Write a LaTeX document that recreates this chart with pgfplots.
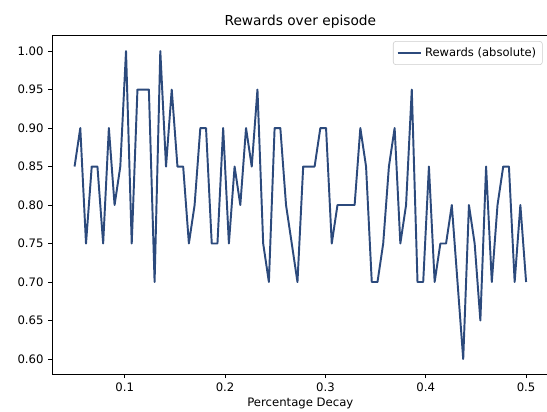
\documentclass[border=0pt]{standalone}
\usepackage{pgfplots}
\pgfplotsset{compat=1.18}
\usepackage{fontspec}
\setmainfont{DejaVu Sans}
\definecolor{linec}{RGB}{44,74,124}
\begin{document}
\begin{tikzpicture}
\begin{axis}[
  scale only axis,
  width=357.6pt, height=243.9pt,
  xmin=0.0275, xmax=0.5225,
  ymin=0.58, ymax=1.02,
  xtick={0.1,0.2,0.3,0.4,0.5},
  ytick={0.6,0.65,0.7,0.75,0.8,0.85,0.9,0.95,1.0},
  xticklabel style={/pgf/number format/.cd,fixed,precision=1},
  yticklabel style={/pgf/number format/.cd,fixed,fixed zerofill,precision=2},
  /pgf/number format/assume math mode=true,
  tick align=outside,
  tick pos=left,
  major tick length=2.6pt,
  every tick/.style={black,line width=0.6pt},
  axis line style={line width=0.6pt},
  ticklabel style={font=\fontsize{8.4}{10}\selectfont},
  xlabel={Percentage Decay},
  xlabel style={font=\fontsize{8.4}{10}\selectfont, at={(axis description cs:0.5,0)}, anchor=north, yshift=-17pt, inner sep=0pt},
  title={Rewards over episode},
  title style={font=\fontsize{9.9}{12}\selectfont, yshift=-4pt},
  legend style={at={(0.988,0.984)}, anchor=north east, draw=black!20, rounded corners=2pt,
    font=\fontsize{8.3}{10}\selectfont, inner sep=2.5pt},
  legend cell align=left,
  legend image code/.code={\draw[#1, line width=1.4pt] (0pt,0pt) -- (17pt,0pt);},
]
\addplot[linec, line width=1.4pt, line join=round] table[x expr={0.05+\coordindex*0.45/79}, y=r] {
r
0.85
0.90
0.75
0.85
0.85
0.75
0.90
0.80
0.85
1.00
0.75
0.95
0.95
0.95
0.70
1.00
0.85
0.95
0.85
0.85
0.75
0.80
0.90
0.90
0.75
0.75
0.90
0.75
0.85
0.80
0.90
0.85
0.95
0.75
0.70
0.90
0.90
0.80
0.75
0.70
0.85
0.85
0.85
0.90
0.90
0.75
0.80
0.80
0.80
0.80
0.90
0.85
0.70
0.70
0.75
0.85
0.90
0.75
0.80
0.95
0.70
0.70
0.85
0.70
0.75
0.75
0.80
0.70
0.60
0.80
0.75
0.65
0.85
0.70
0.80
0.85
0.85
0.70
0.80
0.70
};
\addlegendentry{Rewards (absolute)}
\end{axis}
\pgfresetboundingbox
\path[use as bounding box] ([shift={(-37.44pt,-27.07pt)}]current axis.south west) rectangle ([shift={(356.4pt,269.57pt)}]current axis.south west);
\end{tikzpicture}
\end{document}
